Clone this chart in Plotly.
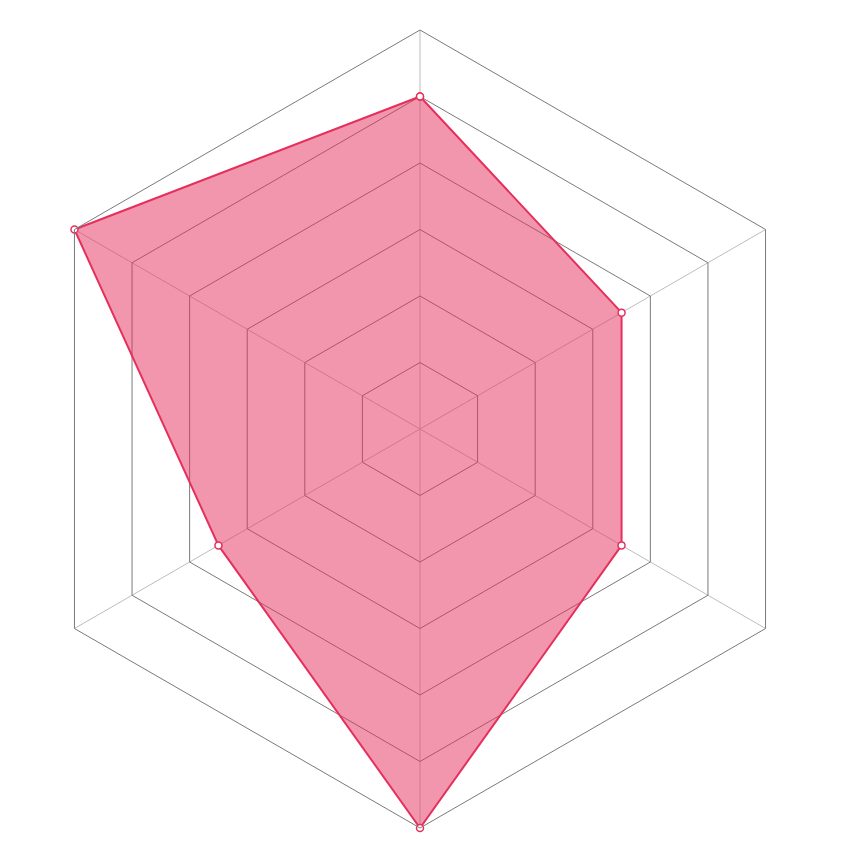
import plotly.graph_objects as go

# six axes, clockwise from the top
categories = ['A', 'B', 'C', 'D', 'E', 'F']
values = [5, 3.5, 3.5, 6, 3.5, 6]

line_col = '#e5305d'
fill_col = 'rgba(228,45,90,0.5)'

fig = go.Figure()
fig.add_trace(go.Scatterpolar(
    r=values + values[:1],
    theta=categories + categories[:1],
    mode='lines+markers',
    fill='toself',
    fillcolor=fill_col,
    line=dict(color=line_col, width=2),
    marker=dict(size=7, color='white', line=dict(color=line_col, width=1.5)),
    hoverinfo='skip',
))

fig.update_layout(
    width=860, height=860,
    paper_bgcolor='white',
    showlegend=False,
    margin=dict(l=13, r=49, t=22, b=40),
    polar=dict(
        bgcolor='white',
        gridshape='linear',
        radialaxis=dict(range=[0, 6], dtick=1, showticklabels=False, ticks='',
                        showline=False, gridcolor='#7a7a7a', gridwidth=1),
        angularaxis=dict(rotation=90, direction='clockwise', showticklabels=False,
                         ticks='', showline=True, linecolor='#7a7a7a', linewidth=1,
                         gridcolor='#bdbdbd', gridwidth=1),
    ),
)

fig.write_html("out.html")
